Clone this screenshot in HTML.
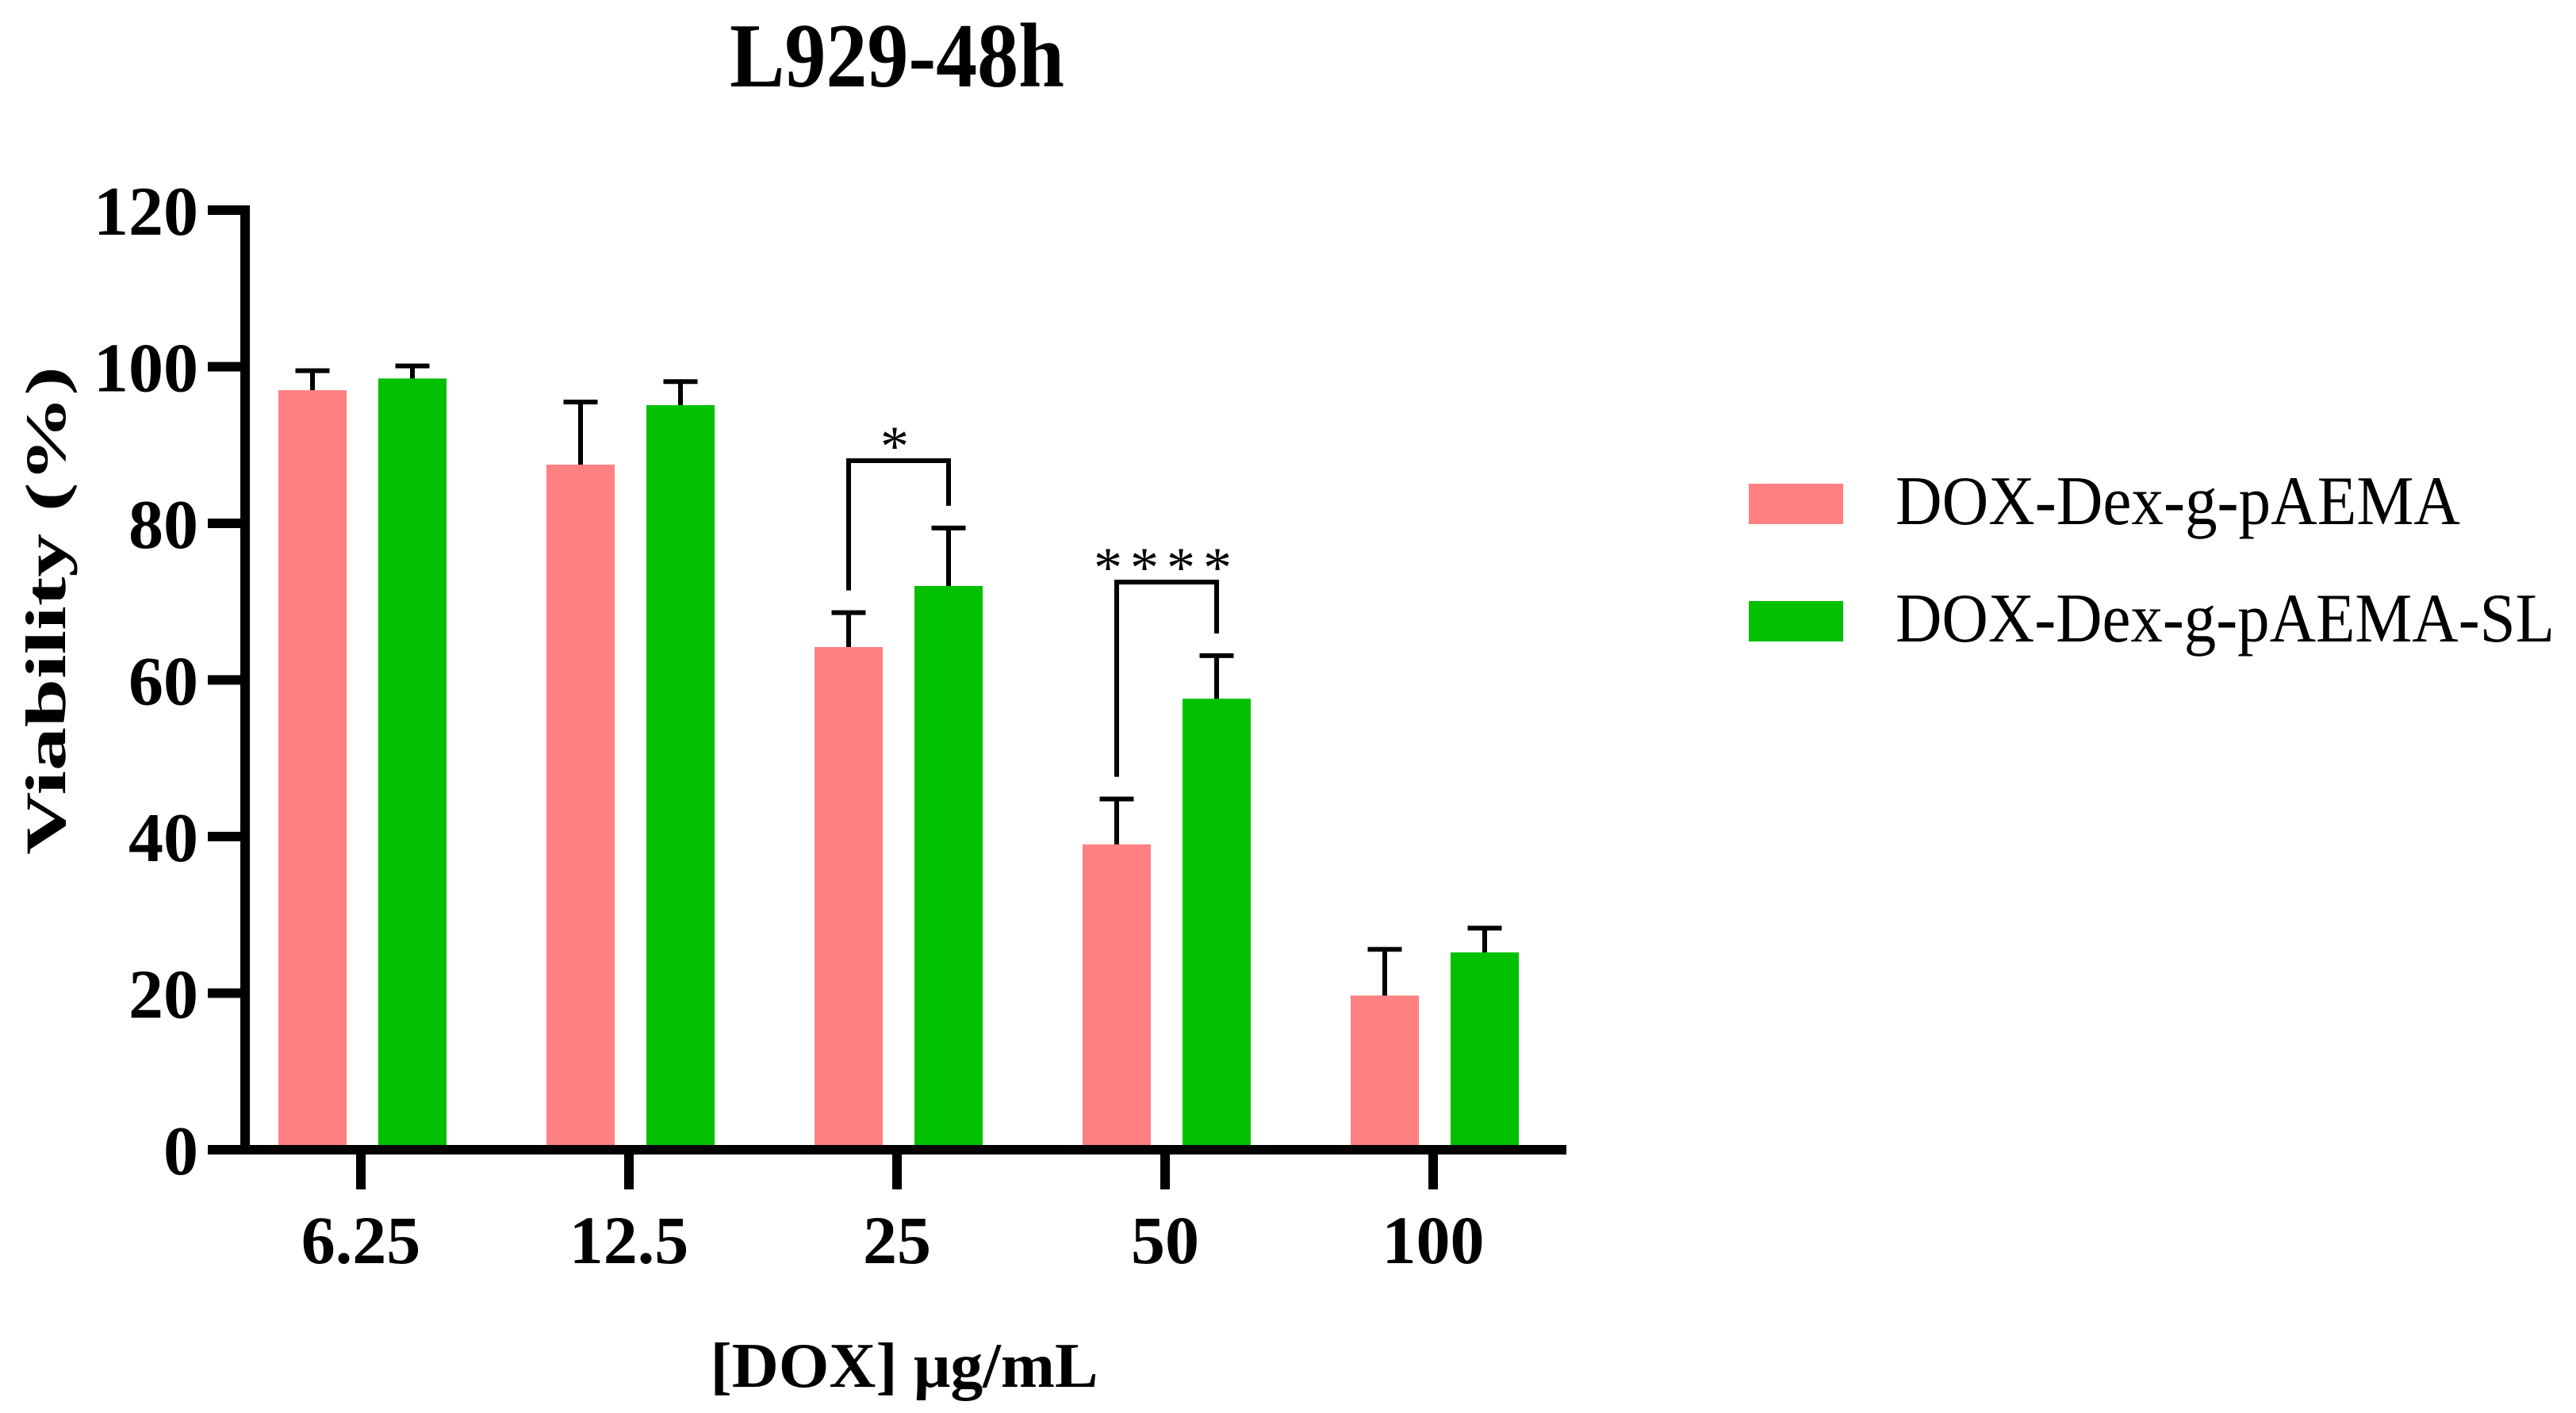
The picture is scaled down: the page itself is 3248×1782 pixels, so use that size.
<!DOCTYPE html>
<html><head><meta charset="utf-8"><style>
html,body{margin:0;padding:0;background:#fff;}
svg{display:block;font-family:"Liberation Serif","Times New Roman",serif;}
</style></head><body>
<svg id="chart" width="3248" height="1782" viewBox="0 0 3248 1782" xmlns="http://www.w3.org/2000/svg">
<rect width="3248" height="1782" fill="#fff"/>
<text x="1131" y="109" font-size="115" font-weight="bold" text-anchor="middle" textLength="422" lengthAdjust="spacingAndGlyphs">L929-48h</text>
<g id="bars"></g>
<g id="axes"></g>
<text transform="translate(82,770) rotate(-90)" font-size="72" font-weight="bold" text-anchor="middle" textLength="616" lengthAdjust="spacingAndGlyphs">Viability (%)</text>
<text x="1140" y="1749" font-size="80" font-weight="bold" text-anchor="middle" textLength="489" lengthAdjust="spacingAndGlyphs">[DOX] μg/mL</text>
<g>
<rect x="2205" y="610" width="119" height="51" fill="#ff8080"/>
<text x="2390" y="661" font-size="88" textLength="712" lengthAdjust="spacingAndGlyphs">DOX-Dex-g-pAEMA</text>
<rect x="2205" y="758" width="119" height="51" fill="#00c000"/>
<text x="2390" y="809" font-size="88" textLength="831" lengthAdjust="spacingAndGlyphs">DOX-Dex-g-pAEMA-SL</text>
</g>
</svg>
<script>
const categories = ["6.25","12.5","25","50","100"];
const pinkValues = [97.0, 87.5, 64.2, 39.0, 19.7];
const pinkErrors = [2.5, 8.0, 4.4, 5.8, 5.9];
const greenValues = [98.5, 95.1, 72.0, 57.6, 25.2];
const greenErrors = [1.6, 3.0, 7.4, 5.5, 3.1];
const yTicks = [0,20,40,60,80,100,120];
const sigLabels = ["", "", "*", "****", ""];
const sigHeights = [0, 0, 88, 72.5, 0];

const NS = "http://www.w3.org/2000/svg";
const y0 = 1450, yPer = 9.875, xAxisLeft = 309, xAxisRight = 1975;
const cat0 = 455, catStep = 338;
function yScale(v){ return y0 - v*yPer; }
function xCenter(i){ return cat0 + i*catStep; }
function mk(tag, attrs, parent){
  const e = document.createElementNS(NS, tag);
  for (const k in attrs) e.setAttribute(k, attrs[k]);
  parent.appendChild(e);
  return e;
}
const bars = document.getElementById('bars');
const axes = document.getElementById('axes');
const LW = 6;
function errBar(cx, v, err, name){
  const l = mk('line', {x1:cx, x2:cx, y1:yScale(v), y2:yScale(v+err), stroke:'#000','stroke-width':LW}, bars);
  
  
  const c = mk('line', {x1:cx-21.5, x2:cx+21.5, y1:yScale(v+err), y2:yScale(v+err), stroke:'#000','stroke-width':LW}, bars);
  
  
}
categories.forEach((c, i) => {
  const cx = xCenter(i);
  const p = mk('rect', {x:cx-104, y:yScale(pinkValues[i]), width:86, height:pinkValues[i]*yPer, fill:'#ff8080'}, bars);
  
  
  const g = mk('rect', {x:cx+22, y:yScale(greenValues[i]), width:86, height:greenValues[i]*yPer, fill:'#00c000'}, bars);
  
  
  errBar(cx-61, pinkValues[i], pinkErrors[i], 'bar-pink-' + c);
  errBar(cx+65, greenValues[i], greenErrors[i], 'bar-green-' + c);
  const t = mk('line', {x1:cx, x2:cx, y1:y0, y2:y0+50, stroke:'#000','stroke-width':12}, axes);
  
  
  const tl = mk('text', {x:cx, y:1593, 'font-size':86, 'font-weight':'bold', 'text-anchor':'middle'}, axes);
  tl.textContent = c;
  
  
  if (sigLabels[i]) {
    const lx = cx-61, rx = cx+65, top = yScale(sigHeights[i]);
    const lb = yScale(pinkValues[i]+pinkErrors[i]) - 28;
    const rb = yScale(greenValues[i]+greenErrors[i]) - 28;
    const br = mk('polyline', {points:`${lx},${lb} ${lx},${top} ${rx},${top} ${rx},${rb}`, fill:'none', stroke:'#000','stroke-width':LW}, bars);
    
    
    const st = mk('text', {x:(lx+rx)/2, y:top+6, 'font-size':72, 'text-anchor':'middle', 'letter-spacing':10}, bars);
    st.textContent = sigLabels[i];
    
    
  }
});
yTicks.forEach(v => {
  const t = mk('line', {x1:262, x2:xAxisLeft, y1:yScale(v), y2:yScale(v), stroke:'#000','stroke-width':12}, axes);
  
  
  const l = mk('text', {x:250, y:yScale(v)+31, 'font-size':88, 'font-weight':'bold', 'text-anchor':'end'}, axes);
  l.textContent = v;
  
  
});
const ya = mk('line', {x1:xAxisLeft, x2:xAxisLeft, y1:yScale(120)-6, y2:y0+6, stroke:'#000','stroke-width':12}, axes);


const xa = mk('line', {x1:262, x2:xAxisRight, y1:y0, y2:y0, stroke:'#000','stroke-width':12}, axes);


</script>
</body></html>
